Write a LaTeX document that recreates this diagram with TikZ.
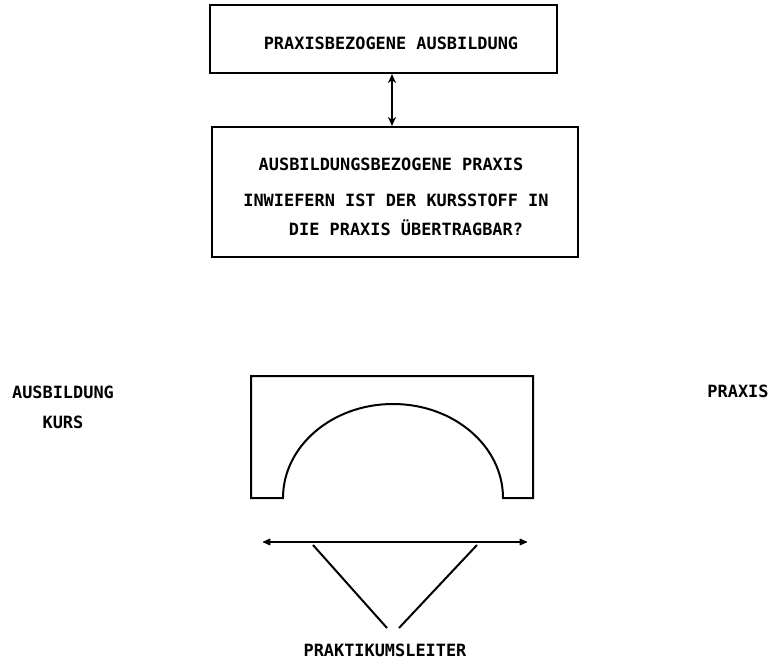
\documentclass[tikz,border=0pt]{standalone}
\usepackage{fontspec}
\setmonofont{DejaVu Sans Mono}
\usetikzlibrary{arrows.meta}
\begin{document}
\begin{tikzpicture}[x=1pt,y=-1pt,
  lbl/.style={font=\fontsize{16.9}{20}\selectfont\ttfamily\bfseries, inner sep=0pt},
  boxed/.style={draw, line width=2pt, inner sep=0pt},
  ln/.style={line width=2pt}]
\useasboundingbox (0,0) rectangle (774,666);
% top box
\node[boxed, minimum width=347pt, minimum height=68pt] (top) at (383.5,39) {};
\node[lbl] (toptxt) at (391,43) {PRAXISBEZOGENE AUSBILDUNG};
% lower box
\node[boxed, minimum width=366pt, minimum height=130pt] (low) at (395,192) {};
\node[lbl] (l1) at (391,164) {AUSBILDUNGSBEZOGENE PRAXIS};
\node[lbl] (l2) at (396,200) {INWIEFERN IST DER KURSSTOFF IN};
\node[lbl] (l3) at (406,228) {DIE PRAXIS ÜBERTRAGBAR?};
\draw[ln, {Stealth[length=9pt,width=8pt]}-{Stealth[length=9pt,width=8pt]}] (top.south -| 392,0) -- (low.north -| 392,0);
% side labels
\node[lbl] (ausb) at (63,392) {AUSBILDUNG};
\node[lbl] (kurs) at (63,422) {KURS};
\node[lbl] (praxis) at (738,391) {PRAXIS};
% bridge
\draw[line width=2pt, line join=miter]
  (283,498) -- (251,498) -- (251,376) -- (533,376) -- (533,498) -- (503,498)
  arc[start angle=0, end angle=-180, x radius=110, y radius=94] -- cycle;
% span line
\coordinate (sl) at (263,542);
\coordinate (sr) at (527,542);
\draw[line width=1.2pt, {Latex[length=9pt,width=8pt,round]}-{Latex[length=9pt,width=8pt,round]}] (sl) -- (sr);
% legs
\coordinate (a1) at (313,545);
\coordinate (a2) at (387,628);
\coordinate (b1) at (477,545);
\coordinate (b2) at (399,628);
\draw[ln] (a1) -- (a2);
\draw[ln] (b1) -- (b2);
\node[lbl] (pl) at (385,650) {PRAKTIKUMSLEITER};
\end{tikzpicture}
\end{document}
